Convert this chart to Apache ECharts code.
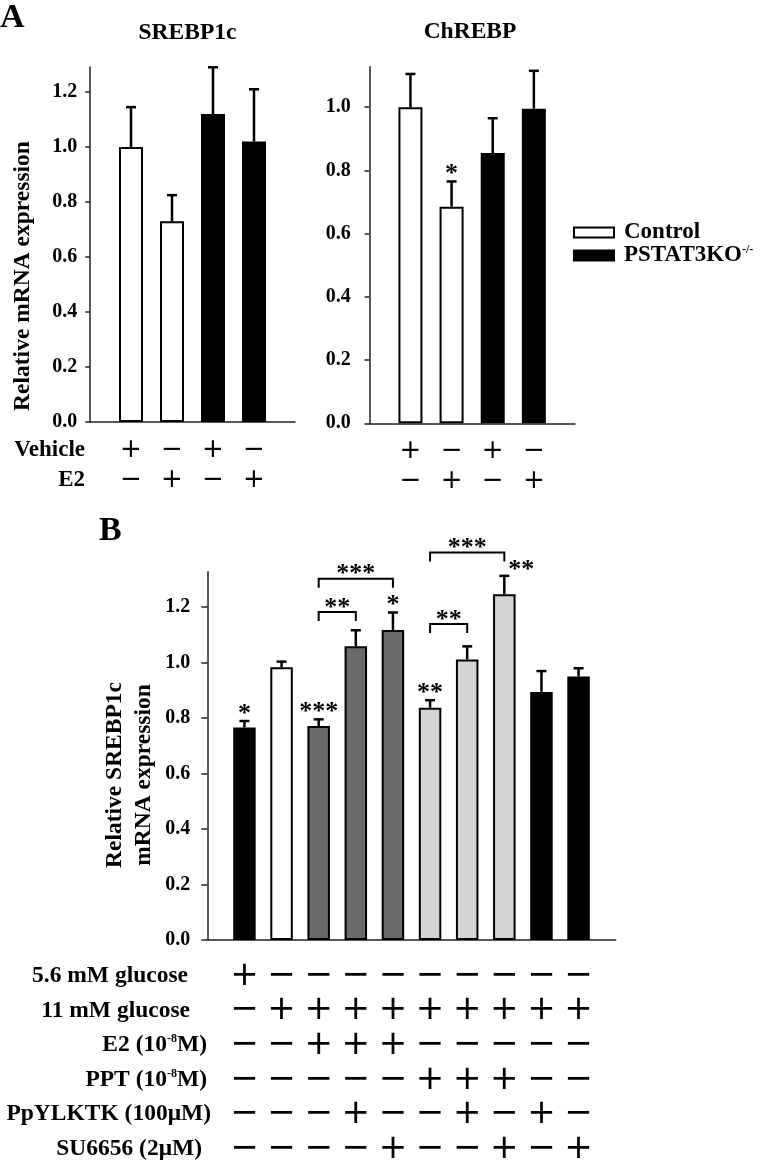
<!DOCTYPE html>
<html><head><meta charset="utf-8">
<script src="https://cdn.jsdelivr.net/npm/echarts@6/dist/echarts.min.js"></script>
<style>html,body{margin:0;padding:0;background:#fff}#c{width:764px;height:1161px}</style>
</head><body><div id="c"></div>
<script>
// ---------- Panel A data ----------
const aVehicle = ['+', '−', '+', '−'];
const aE2 = ['−', '+', '−', '+'];
const aGroups = ['Control', 'Control', 'PSTAT3KO', 'PSTAT3KO'];
const srebpMean = [1.00, 0.73, 1.12, 1.02];
const srebpSem = [0.145, 0.095, 0.17, 0.19];
const srebpSig = ['', '', '', ''];
const chrebpMean = [1.00, 0.685, 0.855, 0.995];
const chrebpSem = [0.105, 0.08, 0.11, 0.12];
const chrebpSig = ['', '*', '', ''];
const srebpTicks = [0, 0.2, 0.4, 0.6, 0.8, 1.0, 1.2];
const chrebpTicks = [0, 0.2, 0.4, 0.6, 0.8, 1.0];

// ---------- Panel B data ----------
const bRowLabels = ['5.6 mM glucose', '11 mM glucose', 'E2 (10{sup|-8}M)', 'PPT (10{sup|-8}M)', 'PpYLKTK (100μM)', 'SU6656 (2μM)'];
const bRows = [
  ['+', '−', '−', '−', '−', '−', '−', '−', '−', '−'],
  ['−', '+', '+', '+', '+', '+', '+', '+', '+', '+'],
  ['−', '−', '+', '+', '+', '−', '−', '−', '−', '−'],
  ['−', '−', '−', '−', '−', '+', '+', '+', '−', '−'],
  ['−', '−', '−', '+', '−', '−', '+', '−', '+', '−'],
  ['−', '−', '−', '−', '+', '−', '−', '+', '−', '+']
];
const bGroups = ['low', 'high', 'e2', 'e2', 'e2', 'ppt', 'ppt', 'ppt', 'inh', 'inh'];
const bMean = [0.766, 0.983, 0.771, 1.058, 1.117, 0.837, 1.011, 1.246, 0.894, 0.949];
const bSem = [0.023, 0.020, 0.024, 0.058, 0.063, 0.027, 0.047, 0.066, 0.075, 0.030];
const bSig = ['*', '', '***', '', '*', '**', '', '**', '', ''];
// brackets: [from bar, to bar, height, label]
const bBrackets = [[3, 4, 1.182, '**'], [3, 5, 1.302, '***'], [6, 7, 1.139, '**'], [6, 8, 1.396, '***']];
const bTicks = [0, 0.2, 0.4, 0.6, 0.8, 1.0, 1.2];

// ---------- styles ----------
const SERIF = '"Liberation Serif", "Times New Roman", serif';
const SYM = '"DejaVu Sans", sans-serif';
const groupColor = { Control: '#ffffff', PSTAT3KO: '#000000', low: '#000000', high: '#ffffff', e2: '#6a6a6a', ppt: '#d4d4d4', inh: '#000000' };

const chart = echarts.init(document.getElementById('c'), null, { renderer: 'canvas' });

function yAxisCfg(grid, max, ticks, margin, tickLen) {
  return {
    type: 'value', gridIndex: grid, min: 0, max: max, interval: 0.2,
    axisLine: { show: true, lineStyle: { color: '#222', width: 1.5 } },
    axisTick: { show: true, length: tickLen, lineStyle: { color: '#222', width: 1.5 }, customValues: ticks },
    axisLabel: { margin: margin, color: '#000', fontFamily: SERIF, fontWeight: 'bold', fontSize: 20,
      customValues: ticks, formatter: v => v.toFixed(1) },
    splitLine: { show: false }
  };
}
function xAxisCfg(grid, n, rows, fontSize, lineHeight, margin) {
  const vals = [];
  for (let i = 1; i <= n; i++) vals.push(i);
  return {
    type: 'value', gridIndex: grid, min: 0, max: n + 1, interval: 1,
    axisLine: { show: true, onZero: false, lineStyle: { color: '#222', width: 1.5 } },
    axisTick: { show: false },
    splitLine: { show: false },
    axisLabel: { customValues: vals, margin: margin, color: '#000', fontFamily: SYM, fontSize: fontSize,
      lineHeight: lineHeight, verticalAlign: 'top',
      formatter: v => { const i = Math.round(v) - 1; return rows.map(r => r[i]).join('\n'); } }
  };
}
function errSeries(ax, means, sems, sig, capW, sigFont) {
  return {
    type: 'custom', xAxisIndex: ax, yAxisIndex: ax, clip: false, z: 5,
    data: means.map((m, i) => [i + 1, m, m + sems[i], i]),
    renderItem: (params, api) => {
      const x = api.value(0);
      const p0 = api.coord([x, api.value(1)]);
      const p1 = api.coord([x, api.value(2)]);
      const i = api.value(3);
      const ch = [
        { type: 'line', shape: { x1: p0[0], y1: p0[1], x2: p1[0], y2: p1[1] }, style: { stroke: '#000', lineWidth: 2.5 } },
        { type: 'line', shape: { x1: p1[0] - capW / 2, y1: p1[1], x2: p1[0] + capW / 2, y2: p1[1] }, style: { stroke: '#000', lineWidth: 2.5 } }
      ];
      if (sig[i]) {
        const shifted = (ax === 2 && i === 7);
        ch.push({ type: 'text', x: p1[0] + (shifted ? 17 : 0), y: p1[1] - (shifted ? 6 : 7),
          style: { text: sig[i], align: 'center', verticalAlign: 'middle', font: sigFont, fill: '#000' } });
      }
      return { type: 'group', children: ch };
    }
  };
}
function barsA(ax, means, group) {
  const d = [];
  means.forEach((v, i) => { if (aGroups[i] === group) d.push([i + 1, v]); });
  return { type: 'bar', name: group, xAxisIndex: ax, yAxisIndex: ax, data: d, barWidth: 24, barGap: '-100%',
    itemStyle: { color: groupColor[group], borderColor: '#000', borderWidth: 2 } };
}

const sigFont = 'bold 26px ' + SERIF;

const option = {
  animation: false,
  backgroundColor: '#fff',
  grid: [
    { left: 90, top: 67, width: 205, height: 355, containLabel: false, outerBoundsMode: 'none' },
    { left: 369.3, top: 66.7, width: 205.7, height: 356.6, containLabel: false, outerBoundsMode: 'none' },
    { left: 207.3, top: 571.7, width: 408.4, height: 368.3, containLabel: false, outerBoundsMode: 'none' }
  ],
  xAxis: [
    xAxisCfg(0, 4, [aVehicle, aE2], 26, 30, 13),
    xAxisCfg(1, 4, [aVehicle, aE2], 26, 30, 13),
    xAxisCfg(2, 10, bRows, 34, 34.6, 18.7)
  ],
  yAxis: [
    yAxisCfg(0, 1.291, srebpTicks, 12.7, 4.7),
    yAxisCfg(1, 1.128, chrebpTicks, 18.6, 4.7),
    yAxisCfg(2, 1.327, bTicks, 17, 6)
  ],
  legend: {
    orient: 'vertical', left: 573, top: 221, padding: 0, itemWidth: 40, itemHeight: 10, itemGap: 0,
    icon: 'rect', selectedMode: false, data: ['Control', 'PSTAT3KO'],
    formatter: n => n === 'PSTAT3KO' ? 'PSTAT3KO{sup|-/-}' : n,
    textStyle: { fontFamily: SERIF, fontWeight: 'bold', fontSize: 23, lineHeight: 23, color: '#000', padding: [0, 0, 0, 5],
      rich: { sup: { fontFamily: SERIF, fontWeight: 'bold', fontSize: 12, lineHeight: 12, verticalAlign: 'top', color: '#000' } } }
  },
  series: [
    barsA(0, srebpMean, 'Control'), barsA(0, srebpMean, 'PSTAT3KO'),
    barsA(1, chrebpMean, 'Control'), barsA(1, chrebpMean, 'PSTAT3KO'),
    errSeries(0, srebpMean, srebpSem, srebpSig, 10, sigFont),
    errSeries(1, chrebpMean, chrebpSem, chrebpSig, 10, sigFont),
    { type: 'bar', xAxisIndex: 2, yAxisIndex: 2, barWidth: 22.5,
      data: bMean.map((v, i) => ({ value: [i + 1, v], itemStyle: { color: groupColor[bGroups[i]] } })),
      itemStyle: { borderColor: '#000', borderWidth: 2 } },
    errSeries(2, bMean, bSem, bSig, 10, sigFont),
    { type: 'custom', xAxisIndex: 2, yAxisIndex: 2, clip: false, z: 6,
      data: bBrackets.map((b, i) => [b[0], b[1], b[2], i]),
      renderItem: (params, api) => {
        const p1 = api.coord([api.value(0), api.value(2)]);
        const p2 = api.coord([api.value(1), api.value(2)]);
        const lbl = bBrackets[api.value(3)][3];
        return { type: 'group', children: [
          { type: 'polyline', shape: { points: [[p1[0], p1[1] + 9], [p1[0], p1[1]], [p2[0], p2[1]], [p2[0], p2[1] + 9]] },
            style: { stroke: '#000', lineWidth: 2, fill: null } },
          { type: 'text', x: (p1[0] + p2[0]) / 2, y: p1[1] - 4,
            style: { text: lbl, align: 'center', verticalAlign: 'middle', font: sigFont, fill: '#000' } }
        ] };
      } }
  ],
  graphic: [
    { type: 'text', left: 0, top: 1, style: { text: 'A', font: 'bold 34px ' + SERIF, fill: '#000' } },
    { type: 'text', left: 99, top: 514, style: { text: 'B', font: 'bold 34px ' + SERIF, fill: '#000' } },
    { type: 'text', x: 187.5, y: 33, style: { text: 'SREBP1c', font: 'bold 23.5px ' + SERIF, align: 'center', verticalAlign: 'middle', fill: '#000' } },
    { type: 'text', x: 470, y: 32, style: { text: 'ChREBP', font: 'bold 23.5px ' + SERIF, align: 'center', verticalAlign: 'middle', fill: '#000' } },
    { type: 'text', x: 22.5, y: 276, rotation: Math.PI / 2,
      style: { text: 'Relative mRNA expression', font: 'bold 23.5px ' + SERIF, align: 'center', verticalAlign: 'middle', fill: '#000' } },
    { type: 'text', x: 129.5, y: 775, rotation: Math.PI / 2,
      style: { text: 'Relative SREBP1c\nmRNA expression', font: 'bold 23.5px ' + SERIF, lineHeight: 29, align: 'center', verticalAlign: 'middle', fill: '#000' } },
    { type: 'text', x: 85, y: 450, style: { text: 'Vehicle', font: 'bold 23px ' + SERIF, align: 'right', verticalAlign: 'middle', fill: '#000' } },
    { type: 'text', x: 85, y: 480, style: { text: 'E2', font: 'bold 23px ' + SERIF, align: 'right', verticalAlign: 'middle', fill: '#000' } }
  ].concat(bRowLabels.map((t, i) => ({
    type: 'text', x: [188, 190, 207, 207, 211, 202][i], y: 976 + i * 34.6,
    style: { text: t, font: 'bold 23.5px ' + SERIF, align: 'right', verticalAlign: 'middle', fill: '#000',
      rich: { sup: { font: 'bold 12px ' + SERIF, verticalAlign: 'top', lineHeight: 12, fill: '#000' } } }
  })))
};
chart.setOption(option);
</script>
</body></html>
